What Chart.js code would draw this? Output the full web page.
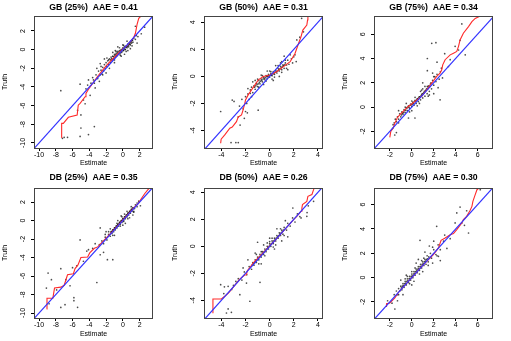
<!DOCTYPE html>
<html><head><meta charset="utf-8">
<script src="https://cdn.jsdelivr.net/npm/chart.js@4.4.1/dist/chart.umd.min.js"></script>
<style>
html,body{margin:0;padding:0;background:#fff;width:511px;height:341px;overflow:hidden}
.p{position:absolute}
</style></head><body>
<canvas id="c0" class="p" style="left:0;top:0"></canvas>
<canvas id="c1" class="p" style="left:170px;top:0"></canvas>
<canvas id="c2" class="p" style="left:340px;top:0"></canvas>
<canvas id="c3" class="p" style="left:0;top:170px"></canvas>
<canvas id="c4" class="p" style="left:170px;top:170px"></canvas>
<canvas id="c5" class="p" style="left:340px;top:170px"></canvas>
<script>
// ---- titles & ticks ----
const titles = ["GB (25%)  AAE = 0.41","GB (50%)  AAE = 0.31","GB (75%)  AAE = 0.34",
                "DB (25%)  AAE = 0.35","DB (50%)  AAE = 0.26","DB (75%)  AAE = 0.30"];
const xLabel = "Estimate";
const yLabel = "Truth";
const ticks25 = [-10,-8,-6,-4,-2,0,2];
const ticks50 = [-4,-2,0,2,4];
const ticks75 = [-2,0,2,4,6];

// ---- axis limits ----
const gb25X=[-10.6,3.6], gb25Y=[-10.54,3.6];
const gb50X=[-5.44,4.42], gb50Y=[-5.3,4.47];
const gb75X=[-3.44,7.4], gb75Y=[-3.37,7.5];
const db25X=[-10.6,3.6], db25Y=[-10.54,3.52];
const db50X=[-5.44,4.42], db50Y=[-5.31,4.32];
const db75X=[-3.44,7.4], db75Y=[-3.32,7.37];

// ---- scatter points (Estimate, Truth) ----
const gb25Pts=[[-7.4,-4.4],[-7.2,-9.5],[-7.0,-9.4],[-6.6,-9.4],[-5.1,-3.7],[-4.1,-3.25],[-5.0,-7.0],[-5.0,-8.4],[-3.4,-8.25],[-4.1,-9.1],[-5.1,-9.3],[-5.4,-6.5],[-4.7,-5.4],[-4.5,-5.8],[-3.9,-4.9],[-3.3,-4.1],[-3.5,-3.25],[-2.7,-2.7],[-3.1,-2.0],[-2.7,-1.5],[-1.9,-0.9],[1.1,1.0],[1.5,2.5],[1.7,0.7],[2.2,1.7],[2.6,2.4],
[-4.4,-4.2],[-4.2,-3.8],[-3.8,-3.6],[-3.6,-3.0],[-3.4,-3.6],[-3.2,-2.7],[-3.0,-3.1],[-2.9,-2.3],[-2.8,-3.4],[-2.6,-2.2],[-2.5,-2.6],[-2.4,-1.9],[-2.3,-2.3],[-2.2,-1.6],[-2.1,-2.0],[-2.0,-1.4],[-1.9,-1.8],[-1.8,-1.2],[-1.7,-1.6],[-1.6,-1.0],[-1.5,-1.4],[-1.4,-0.8],[-1.3,-1.2],[-1.2,-0.7],[-1.1,-1.0],[-1.0,-0.5],[-0.9,-0.8],[-0.8,-0.4],[-0.7,-0.6],[-0.6,-0.2],[-0.5,-0.5],[-0.4,-0.1],[-0.3,-0.3],[-0.2,0.0],[-0.1,-0.2],[0.0,0.2],[0.1,-0.1],[0.2,0.3],[0.3,0.0],[0.4,0.4],[0.5,0.2],[0.6,0.6],[0.7,0.3],[0.8,0.7],[0.9,0.5],[1.0,0.9],[1.2,0.8],[1.3,1.2],[1.5,1.1],[1.6,1.5],[1.8,1.4],
[-1.2,-0.3],[-0.6,0.3],[0.2,-0.5],[0.9,0.1],[-1.6,-2.0],[-2.2,-1.0],[-0.2,-0.7],[0.5,0.9],[-0.9,-0.1],[0.0,0.5],[-2.0,-2.5],[-1.0,-1.4]];
const gb25Core=[[-1.45,-1.1],[-1.35,-0.95],[-1.25,-1.05],[-1.15,-0.75],[-1.05,-0.9],[-0.95,-0.65],[-0.85,-0.55],[-0.75,-0.7],[-0.65,-0.35],[-0.55,-0.45],[-0.45,-0.25],[-0.35,-0.4],[-0.25,-0.1],[-0.15,-0.3],[-0.05,0.05],[0.05,-0.05],[0.15,0.15],[0.25,0.05],[0.35,0.25],[0.45,0.3],[0.55,0.35],[0.65,0.45],[0.75,0.55],[0.85,0.6],[0.95,0.75],[1.05,0.7],[1.15,1.0],[-0.8,-0.2],[-0.4,0.2],[0.1,0.45],[0.6,-0.1],[-1.0,-1.1],[-0.3,-0.6],[0.4,-0.2],[1.1,0.4],[-1.7,-1.1],[-2.4,-2.7],[-2.6,-1.8]];
const gb50Pts=[[-4.06,-2.6],[-3.1,-1.75],[-2.95,-1.85],[-3.2,-4.9],[-2.8,-4.9],[-2.6,-4.9],[-2.6,-3.0],[-1.85,-2.7],[-0.95,-2.5],[-2.45,-3.6],[-2.1,-3.1],[-1.5,-1.5],[-1.6,-1.0],[1.4,0.6],[2.0,1.45],[2.5,2.9],[2.8,3.3],[2.65,4.3],[2.25,2.7],[1.7,1.6],[2.2,1.1],[1.2,1.5],
[-2.5,-2.2],[-2.3,-1.7],[-2.2,-2.4],[-2.0,-1.5],[-1.9,-2.0],[-1.8,-1.3],[-1.7,-1.7],[-1.6,-1.25],[-1.5,-0.8],[-1.4,-1.2],[-1.3,-0.7],[-1.2,-0.95],[-1.1,-0.5],[-1.0,-0.75],[-0.9,-0.3],[-0.8,-0.55],[-0.7,-0.2],[-0.6,-0.4],[-0.5,-0.05],[-0.4,-0.25],[-0.3,0.05],[-0.2,-0.15],[-0.1,0.15],[0.0,-0.05],[0.1,0.2],[0.2,0.05],[0.3,0.35],[0.4,0.15],[0.5,0.45],[0.6,0.25],[0.7,0.6],[0.8,0.4],[0.9,0.75],[1.0,0.5],[1.1,0.85],[1.2,0.6],[1.3,1.0],[1.4,0.85],[1.5,1.2],[1.6,0.9],[1.8,1.3],[1.9,1.0],[2.1,1.6],
[-0.7,0.1],[0.3,-0.3],[0.8,0.0],[-0.2,0.4],[1.0,1.1],[-1.2,-0.3],[0.5,0.8],[-0.5,-0.6],[1.5,0.5],[-1.8,-0.9],[-2.0,-2.6],[0.0,0.4]];
const gb50Core=[[-1.25,-0.8],[-1.15,-0.7],[-1.05,-0.6],[-0.95,-0.55],[-0.85,-0.45],[-0.75,-0.35],[-0.65,-0.3],[-0.55,-0.2],[-0.45,-0.15],[-0.35,-0.1],[-0.25,0.0],[-0.15,0.0],[-0.05,0.05],[0.05,0.1],[0.15,0.1],[0.25,0.2],[0.35,0.2],[0.45,0.3],[0.55,0.35],[0.65,0.4],[0.75,0.5],[0.85,0.55],[0.95,0.65],[1.05,0.7],[1.15,0.8],[1.25,0.85],[-0.9,-0.8],[-0.6,0.05],[-0.3,-0.35],[0.1,0.35],[0.4,-0.05],[0.7,0.8],[1.0,0.3],[1.3,1.2],[-1.4,-0.4],[0.2,-0.2],[0.9,1.0],[-1.0,-0.2]];
const gb75Pts=[[-1.7,-1.45],[-1.75,-1.75],[-1.4,-2.1],[-1.55,-2.3],[0.29,-0.9],[2.58,0.6],[1.42,1.7],[1.42,3.0],[1.42,4.0],[1.82,5.25],[2.2,5.3],[3.34,3.34],[4.26,4.7],[4.56,6.85],[4.87,4.3],[4.4,5.5],[3.95,5.0],[3.5,3.9],[2.8,2.4],[3.0,4.4],[2.3,3.7],[1.0,2.0],[-0.3,-0.9],[-1.2,-0.3],[2.0,1.1],
[-1.6,-1.3],[-1.5,-1.0],[-1.4,-1.2],[-1.3,-0.8],[-1.2,-1.0],[-1.1,-0.55],[-1.0,-0.8],[-0.9,-0.4],[-0.8,-0.6],[-0.7,-0.2],[-0.6,-0.45],[-0.5,-0.05],[-0.4,-0.3],[-0.3,0.1],[-0.2,-0.1],[-0.1,0.25],[0.0,0.05],[0.1,0.4],[0.2,0.15],[0.3,0.55],[0.4,0.3],[0.5,0.7],[0.6,0.45],[0.7,0.85],[0.8,0.6],[0.9,1.0],[1.0,0.75],[1.1,1.2],[1.2,0.9],[1.3,1.4],[1.4,1.1],[1.5,1.65],[1.6,1.3],[1.7,1.9],[1.8,1.5],[1.9,2.2],[2.0,1.8],[2.1,2.5],[2.2,2.1],[2.3,2.7],[2.5,2.3],[2.6,2.9],[2.7,3.2],
[0.0,0.5],[0.5,0.1],[1.0,1.5],[1.5,0.9],[-0.5,0.3],[2.4,1.6],[0.8,1.3],[1.9,2.8]];
const gb75Core=[[-0.95,-0.65],[-0.85,-0.5],[-0.75,-0.45],[-0.65,-0.3],[-0.55,-0.25],[-0.45,-0.1],[-0.35,0.0],[-0.25,0.0],[-0.15,0.15],[-0.05,0.2],[0.05,0.25],[0.15,0.3],[0.25,0.45],[0.35,0.5],[0.45,0.6],[0.55,0.65],[0.65,0.8],[0.75,0.85],[0.85,0.95],[0.95,1.1],[1.05,1.1],[1.15,1.3],[1.25,1.35],[1.35,1.5],[1.45,1.5],[1.55,1.75],[1.65,1.7],[1.75,2.0],[-0.6,0.0],[-0.2,-0.4],[0.3,0.8],[0.7,0.3],[1.2,1.7],[1.6,1.0],[2.0,2.5],[-1.2,-1.3],[0.0,-0.3],[0.9,1.4]];
const db25Pts=[[-8.92,-5.68],[-8.52,-6.4],[-9.12,-7.3],[-7.4,-5.2],[-6.8,-6.4],[-5.84,-8.34],[-5.84,-8.67],[-5.4,-9.39],[-6.3,-7.05],[-6.9,-9.1],[-7.4,-9.4],[-3.1,-6.7],[-4.1,-3.15],[-4.3,-3.3],[-2.7,-3.7],[-1.84,-4.23],[-1.2,-4.23],[-2.3,-3.44],[-2.7,-0.8],[-2.1,-1.5],[-5.1,-2.1],[1.7,1.9],[2.1,1.6],[1.3,1.0],[-8.8,-9.0],[-7.9,-7.5],[-6.0,-5.1],[-5.5,-4.9],[-4.7,-4.4],[-3.6,-3.0],[-3.3,-2.5],
[-2.8,-2.6],[-2.5,-2.2],[-2.3,-2.5],[-2.1,-1.8],[-1.9,-2.1],[-1.7,-1.5],[-1.5,-1.7],[-1.4,-1.2],[-1.3,-1.4],[-1.2,-1.0],[-1.1,-1.2],[-1.0,-0.8],[-0.9,-1.0],[-0.8,-0.6],[-0.7,-0.8],[-0.6,-0.4],[-0.5,-0.6],[-0.4,-0.2],[-0.3,-0.4],[-0.2,0.0],[-0.1,-0.2],[0.0,0.2],[0.1,0.0],[0.2,0.4],[0.3,0.2],[0.4,0.6],[0.5,0.4],[0.6,0.8],[0.7,0.6],[0.8,1.0],[0.9,0.8],[1.0,1.2],[1.1,1.0],[1.2,1.4],[1.4,1.3],[1.5,1.7],[1.7,1.5],[1.9,2.1],
[-0.6,0.0],[0.3,-0.3],[-1.5,-0.9],[0.8,0.3],[-0.2,0.5],[1.2,0.6],[-2.0,-1.2],[-1.0,-1.6],[0.0,-0.5],[0.5,1.0]];
const db25Core=[[-1.45,-1.35],[-1.35,-1.2],[-1.25,-1.15],[-1.15,-1.0],[-1.05,-0.95],[-0.95,-0.8],[-0.85,-0.75],[-0.75,-0.6],[-0.65,-0.55],[-0.55,-0.4],[-0.45,-0.35],[-0.35,-0.2],[-0.25,-0.15],[-0.15,0.0],[-0.05,0.05],[0.05,0.2],[0.15,0.25],[0.25,0.4],[0.35,0.45],[0.45,0.6],[0.55,0.65],[0.65,0.8],[0.75,0.85],[0.85,1.0],[0.95,1.05],[1.05,1.2],[1.15,1.25],[1.25,1.35],[-0.7,-0.3],[-0.3,-0.6],[0.2,0.7],[0.6,0.2],[1.0,1.5],[1.3,0.9],[-1.2,-1.6],[-1.7,-1.2],[0.1,-0.1],[-0.1,0.4]];
const db50Pts=[[-3.58,-4.94],[-3.17,-4.89],[-3.44,-4.64],[-4.06,-2.84],[-3.75,-3.0],[-3.44,-2.96],[-3.0,-2.9],[-3.15,-3.2],[-2.47,-3.58],[-1.64,-4.07],[-3.8,-3.5],[-2.8,-2.6],[-1.92,-2.72],[-0.8,-2.67],[1.92,2.84],[3.08,2.22],[3.1,2.5],[3.64,3.33],[3.2,3.0],[-1.0,0.3],[1.5,0.7],[2.6,2.1],[-2.2,-1.6],
[-2.6,-2.4],[-2.3,-2.5],[-2.1,-1.9],[-1.9,-2.1],[-1.7,-1.5],[-1.5,-1.7],[-1.4,-1.2],[-1.3,-1.4],[-1.2,-1.0],[-1.1,-1.2],[-1.0,-0.8],[-0.9,-1.0],[-0.8,-0.6],[-0.7,-0.8],[-0.6,-0.4],[-0.5,-0.6],[-0.4,-0.2],[-0.3,-0.4],[-0.2,0.0],[-0.1,-0.2],[0.0,0.2],[0.1,0.0],[0.2,0.4],[0.3,0.2],[0.4,0.6],[0.5,0.4],[0.6,0.8],[0.7,0.6],[0.8,1.0],[0.9,0.8],[1.0,1.2],[1.1,0.9],[1.2,1.4],[1.4,1.2],[1.5,1.7],[1.7,1.5],[1.9,2.1],[2.1,1.8],[2.3,2.4],[2.5,2.2],
[-0.5,0.1],[0.4,-0.2],[-1.2,-0.5],[1.0,0.4],[0.0,0.6],[-0.7,-1.3],[-1.8,-1.0],[1.3,1.9],[0.6,1.3]];
const db50Core=[[-1.45,-1.4],[-1.35,-1.3],[-1.25,-1.2],[-1.15,-1.1],[-1.05,-1.0],[-0.95,-0.9],[-0.85,-0.8],[-0.75,-0.7],[-0.65,-0.6],[-0.55,-0.5],[-0.45,-0.4],[-0.35,-0.3],[-0.25,-0.2],[-0.15,-0.1],[-0.05,0.0],[0.05,0.1],[0.15,0.2],[0.25,0.3],[0.35,0.4],[0.45,0.5],[0.55,0.6],[0.65,0.7],[0.75,0.8],[0.85,0.9],[0.95,1.0],[1.05,1.1],[1.15,1.2],[-0.7,-0.4],[-0.4,-0.7],[0.2,0.6],[0.5,0.1],[0.9,1.3],[1.2,0.8],[-1.1,-0.6],[-0.9,-1.3],[0.0,0.35],[0.3,-0.05],[-0.2,0.25]];
const db75Pts=[[-1.54,-2.58],[-1.8,-2.1],[-2.2,-1.9],[-1.3,-1.9],[0.75,3.07],[2.27,4.22],[4.1,5.32],[3.95,4.5],[5.17,3.67],[4.8,4.3],[4.56,4.5],[2.43,1.75],[2.6,1.4],[6.24,7.23],[6.5,7.4],[3.0,3.5],[3.5,3.2],[2.0,3.0],[1.6,2.6],[0.0,-0.6],[-0.8,-1.4],[3.2,2.4],[4.4,5.8],[5.0,5.5],
[-1.6,-1.4],[-1.4,-1.1],[-1.3,-1.4],[-1.2,-0.9],[-1.1,-1.1],[-1.0,-0.7],[-0.9,-1.0],[-0.8,-0.5],[-0.7,-0.8],[-0.6,-0.3],[-0.5,-0.6],[-0.4,-0.1],[-0.3,-0.4],[-0.2,0.1],[-0.1,-0.2],[0.0,0.3],[0.1,0.0],[0.2,0.5],[0.3,0.2],[0.4,0.7],[0.5,0.4],[0.6,0.9],[0.7,0.6],[0.8,1.1],[0.9,0.8],[1.0,1.3],[1.1,1.0],[1.2,1.5],[1.3,1.1],[1.4,1.8],[1.5,1.3],[1.7,2.0],[1.8,1.6],[2.0,2.3],[2.2,1.9],[2.4,2.7],[2.6,2.3],[2.9,3.0],
[0.2,-0.3],[-0.5,0.2],[1.0,0.5],[0.6,1.5],[1.9,1.2],[1.2,2.1],[-1.0,-0.2],[0.4,1.2]];
const db75Core=[[-0.95,-0.85],[-0.85,-0.7],[-0.75,-0.65],[-0.65,-0.5],[-0.55,-0.45],[-0.45,-0.3],[-0.35,-0.25],[-0.25,-0.1],[-0.15,-0.05],[-0.05,0.1],[0.05,0.15],[0.15,0.3],[0.25,0.35],[0.35,0.5],[0.45,0.55],[0.55,0.7],[0.65,0.75],[0.75,0.9],[0.85,0.95],[0.95,1.1],[1.05,1.15],[1.15,1.3],[1.25,1.35],[1.35,1.5],[1.45,1.55],[1.55,1.7],[-0.6,-0.1],[-0.2,-0.5],[0.3,0.8],[0.7,0.3],[1.1,1.6],[1.5,1.0],[-1.2,-1.4],[0.0,0.5],[0.9,1.4],[1.9,2.5],[2.3,1.8],[-0.4,0.1]];

// ---- red curves ----
const gb25Red=[[-7.35,-9.4],[-7.3,-7.9],[-7.1,-7.9],[-6.5,-7.25],[-5.45,-7.0],[-5.32,-5.95],[-5.1,-5.75],[-4.5,-5.05],[-4.4,-4.7],[-4.1,-4.25],[-3.9,-4.0],[-3.5,-3.5],[-3.0,-2.85],[-2.5,-2.3],[-2.0,-1.75],[-1.5,-1.25],[-1.0,-0.8],[-0.5,-0.35],[0.0,0.05],[0.5,0.45],[1.0,0.95],[1.3,1.3],[1.5,1.75],[1.7,2.7],[1.9,3.35],[2.3,3.7]];
const gb50Red=[[-4.06,-4.95],[-4.02,-4.65],[-3.72,-4.33],[-3.3,-3.83],[-3.1,-3.75],[-2.75,-3.35],[-2.6,-3.0],[-2.33,-2.85],[-2.2,-2.48],[-2.06,-2.0],[-2.0,-1.75],[-1.78,-1.37],[-1.5,-1.0],[-1.22,-0.63],[-0.94,-0.26],[-0.53,-0.01],[0.03,0.1],[0.58,0.35],[1.14,0.72],[1.7,1.09],[2.1,1.7],[2.4,2.45],[2.6,2.94],[2.75,3.43],[3.08,3.8],[3.14,4.17],[3.17,4.5]];
const gb75Red=[[-2.0,-2.49],[-1.91,-2.0],[-1.7,-1.75],[-1.54,-1.32],[-1.33,-0.9],[-1.08,-0.63],[-0.78,-0.36],[-0.32,0.05],[0.29,0.47],[0.9,0.88],[1.36,1.42],[1.82,1.97],[2.27,2.52],[2.58,2.79],[2.73,3.07],[2.82,3.48],[3.04,3.9],[3.5,4.3],[3.8,4.44],[4.1,4.58],[4.26,5.0],[4.4,5.53],[4.7,6.08],[5.17,6.63],[5.48,7.04],[5.78,7.3],[6.24,7.5],[6.6,7.6]];
const db25Red=[[-9.1,-9.55],[-9.05,-8.4],[-8.35,-8.4],[-8.15,-7.3],[-7.4,-7.2],[-7.0,-7.0],[-6.6,-5.86],[-5.9,-5.75],[-5.7,-5.2],[-5.35,-4.8],[-5.0,-4.0],[-4.2,-3.95],[-3.95,-3.5],[-3.4,-3.0],[-3.0,-2.85],[-2.0,-1.9],[-1.0,-0.95],[0.0,0.05],[1.0,1.05],[1.5,1.55],[1.8,1.8],[2.2,2.35],[2.6,2.9],[3.0,3.35],[3.3,3.6]];
const db50Red=[[-4.7,-4.95],[-4.7,-3.9],[-4.0,-3.9],[-3.72,-3.7],[-3.4,-3.45],[-3.0,-3.0],[-2.5,-2.45],[-2.1,-2.15],[-1.92,-2.1],[-1.85,-1.8],[-1.5,-1.4],[-1.36,-1.23],[-0.5,-0.45],[0.5,0.5],[1.5,1.5],[2.0,2.0],[2.25,2.22],[2.6,2.6],[2.67,2.84],[2.72,3.09],[3.08,3.33],[3.17,3.7],[3.5,3.83],[3.64,4.2],[3.7,4.32],[4.5,4.4]];
const db75Red=[[-2.3,-2.41],[-2.3,-2.14],[-2.0,-2.08],[-1.54,-1.67],[-1.2,-1.2],[0.0,0.0],[1.0,1.0],[1.97,1.89],[2.43,2.44],[2.67,3.07],[3.04,3.26],[3.5,3.53],[3.8,3.62],[4.1,3.95],[4.56,4.5],[4.7,4.77],[5.0,5.04],[5.3,5.5],[5.48,5.86],[5.57,6.27],[5.78,6.82],[5.94,7.23],[6.24,7.45],[6.6,7.5]];

const FONT = "'Liberation Sans', Arial, Helvetica, sans-serif";
const toXY = a => a.map(p => ({x:p[0], y:p[1]}));

const frame = {id:'frame', afterDatasetsDraw(c){
  const a=c.chartArea, ctx=c.ctx;
  ctx.save(); ctx.strokeStyle='#444'; ctx.lineWidth=1;
  ctx.strokeRect(Math.round(a.left)+0.5, Math.round(a.top)+0.5, Math.round(a.right-a.left)-1, Math.round(a.bottom-a.top));
  ctx.restore();
}};

function panel(id, w, h, title, pts, red, xr, yr, xt, yt, titleH, axisH, rightPad, yPad){
  const cv = document.getElementById(id);
  cv.width = w; cv.height = h; cv.style.width = w+'px'; cv.style.height = h+'px';
  const lo = Math.min(xr[0], yr[0]) - 1, hi = Math.max(xr[1], yr[1]) + 1;
  const tickFont = {family:FONT, size:7, lineHeight:1.2};
  new Chart(cv, {
    type:'scatter',
    data:{datasets:[
      {data:toXY([[lo,lo],[hi,hi]]), showLine:true, borderColor:'#3333ff', borderWidth:1.2, pointRadius:0},
      {data:toXY(red), showLine:true, borderColor:'#ff2a2a', borderWidth:1.1, pointRadius:0, tension:0},
      {data:toXY(pts), pointRadius:0.85, pointBorderWidth:0, backgroundColor:'rgba(0,0,0,0.7)'}
    ]},
    options:{
      responsive:false, animation:false, devicePixelRatio:1,
      layout:{padding:{left:0,right:rightPad,top:0,bottom:0}},
      plugins:{legend:{display:false}, tooltip:{enabled:false},
        title:{display:true, text:title, fullSize:false, color:'#000',
          font:{family:FONT, size:8.7, weight:'bold', lineHeight:1},
          padding:{top:3.6, bottom:titleH-3.6-8.7}}},
      scales:{
        x:{type:'linear', min:xr[0], max:xr[1],
          afterBuildTicks:s=>{s.ticks = xt.map(v=>({value:v}));},
          afterFit:s=>{s.height = axisH;},
          grid:{drawOnChartArea:false, drawTicks:true, tickLength:3, color:'#000'},
          border:{display:false},
          ticks:{font:tickFont, color:'#000', padding:0, maxRotation:0, autoSkip:false, callback:v=>String(v)},
          title:{display:true, text:xLabel, color:'#000', font:{family:FONT,size:7,lineHeight:1.2}, padding:{top:0,bottom:2.8}}},
        y:{type:'linear', min:yr[0], max:yr[1],
          afterBuildTicks:s=>{s.ticks = yt.map(v=>({value:v}));},
          afterFit:s=>{s.width = 34;},
          grid:{drawOnChartArea:false, drawTicks:true, tickLength:3, color:'#000'},
          border:{display:false},
          ticks:{font:tickFont, color:'#000', padding:yPad, minRotation:90, maxRotation:90, crossAlign:'center', autoSkip:false, callback:v=>String(v)},
          title:{display:true, text:yLabel, color:'#000', font:{family:FONT,size:7,lineHeight:1.2}, padding:{top:0.8,bottom:0}}}
      }
    },
    plugins:[frame]
  });
}

panel('c0',170,170,titles[0],gb25Pts.concat(gb25Core),gb25Red,gb25X,gb25Y,ticks25,ticks25,16,22,17,3);
panel('c1',170,170,titles[1],gb50Pts.concat(gb50Core),gb50Red,gb50X,gb50Y,ticks50,ticks50,16,22,17,5);
panel('c2',171,170,titles[2],gb75Pts.concat(gb75Core),gb75Red,gb75X,gb75Y,ticks75,ticks75,16,22,18,5);
panel('c3',170,171,titles[3],db25Pts.concat(db25Core),db25Red,db25X,db25Y,ticks25,ticks25,18,23,17,3);
panel('c4',170,171,titles[4],db50Pts.concat(db50Core),db50Red,db50X,db50Y,ticks50,ticks50,18,23,17,5);
panel('c5',171,171,titles[5],db75Pts.concat(db75Core),db75Red,db75X,db75Y,ticks75,ticks75,18,23,18,5);
</script>
</body></html>
